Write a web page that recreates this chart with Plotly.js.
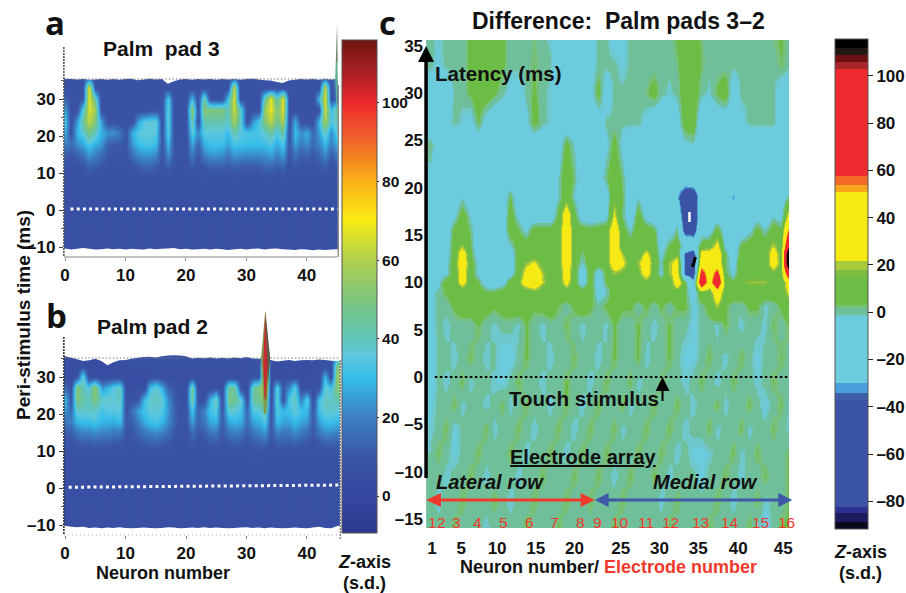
<!DOCTYPE html>
<html><head><meta charset="utf-8">
<script src="https://cdn.plot.ly/plotly-3.0.1.min.js"></script>
<style>html,body{margin:0;padding:0;background:#fff}</style></head>
<body><div id="chart" style="width:906px;height:593px"></div>
<script>
const neurons=[0,1,2,3,4,5,6,7,8,9,10,11,12,13,14,15,16,17,18,19,20,21,22,23,24,25,26,27,28,29,30,31,32,33,34,35,36,37,38,39,40,41,42,43,44,45];
const latencies=[-11,5,9,12,15,18,21,24,27,30,33,36,38];
// Palm pad 3 (s.d.), one row per latency
const a_m11=[5,5,6,5,5,6,5,5,6,5,5,6,5,5,6,5,5,6,5,5,6,5,5,6,5,5,6,5,5,6,5,5,6,5,5,6,5,5,6,5,5,6,5,5,6,5];
const a_5=[6,6,6,7,6,6,7,6,6,6,7,6,6,7,6,6,6,7,6,6,6,7,6,6,7,6,6,6,7,6,6,7,6,6,7,6,6,6,7,6,6,7,6,6,6,7];
const a_9=[7,7,7,8,9,8,8,7,7,7,7,7,8,8,8,8,7,8,7,7,7,8,7,8,8,8,8,8,9,8,8,8,8,9,9,8,9,7,8,7,8,7,8,8,7,8];
const a_12=[8,8,9,9,14,12,10,9,8,8,8,9,12,14,14,12,8,13,8,7,7,12,8,11,13,13,13,11,14,12,12,12,12,15,15,12,15,8,11,9,10,9,10,13,9,10];
const a_15=[12,10,13,17,24,20,16,10,9,9,9,16,22,24,24,21,9,23,10,7,7,19,10,20,24,24,23,18,24,23,22,22,22,23,26,20,26,9,17,12,14,11,14,22,12,18];
const a_18=[21,16,23,27,34,28,25,13,11,11,10,24,31,33,33,31,9,30,10,7,7,27,14,28,32,32,32,26,33,32,31,31,31,32,34,27,34,10,26,19,23,15,21,30,20,28];
const a_21=[28,8,29,36,48,40,29,23,23,18,9,28,35,36,36,35,8,36,9,7,7,36,22,35,35,35,35,30,42,35,33,33,33,38,44,34,44,8,31,23,28,15,25,40,22,36];
const a_24=[34,7,25,46,62,50,26,7,10,7,7,7,26,35,37,37,7,38,7,7,7,44,7,42,42,42,42,38,58,40,7,24,34,52,62,46,60,7,28,7,7,7,30,58,34,40];
const a_27=[26,7,7,36,66,58,8,7,7,7,7,7,7,7,9,9,7,38,7,7,7,54,7,52,50,50,50,40,64,40,7,7,7,58,68,50,66,7,7,7,7,7,8,64,30,46];
const a_30=[14,7,7,10,68,44,7,7,7,7,7,7,7,7,7,7,7,34,7,7,7,30,7,44,7,7,7,32,66,8,7,7,7,44,68,40,68,7,7,7,7,7,30,66,8,16];
const a_33=[7,7,7,8,68,8,7,7,7,7,7,7,7,7,7,7,7,7,7,7,7,7,7,7,7,7,7,7,62,7,7,7,7,7,7,7,7,7,7,7,7,7,7,62,7,20];
const a_36=[7,7,7,7,8,7,7,7,7,7,7,7,7,7,7,7,7,7,7,7,7,7,7,7,7,7,7,7,7,7,7,7,7,7,6,6,5,6,7,7,7,7,7,7,7,30];
const a_38=a_36;
const zPad3=[a_m11,a_5,a_9,a_12,a_15,a_18,a_21,a_24,a_27,a_30,a_33,a_36,a_38];
// Palm pad 2 (s.d.)
const b_m11=[5,5,6,5,5,6,5,5,6,5,5,6,5,5,6,5,5,6,5,5,6,5,5,6,5,5,6,5,5,6,5,5,6,5,5,6,5,5,6,5,5,6,5,5,6,5];
const b_5=[6,6,6,7,6,6,7,6,6,6,7,6,6,7,6,6,6,7,6,6,6,7,6,6,7,6,6,6,7,6,6,7,6,6,7,6,6,6,7,6,6,7,6,6,6,7];
const b_9=[7,7,8,8,8,8,8,8,8,8,7,7,7,8,8,8,8,8,7,6,6,7,7,7,8,8,7,8,8,8,7,8,9,7,8,8,8,8,8,8,8,7,8,8,8,8];
const b_12=[8,8,10,11,11,12,11,11,10,10,8,8,10,11,12,12,11,10,8,7,7,10,8,9,10,11,8,11,12,11,9,11,12,13,9,12,11,11,12,11,10,8,10,12,12,12];
const b_15=[12,12,18,20,20,22,20,20,18,18,10,10,14,18,20,22,20,16,10,8,7,16,10,12,18,18,10,18,20,18,12,18,20,24,10,20,18,18,22,18,16,10,18,22,22,20];
const b_18=[18,20,29,31,31,33,29,29,27,31,11,12,20,27,31,33,29,22,14,8,8,26,14,18,27,29,12,27,29,27,16,26,28,34,10,31,26,26,31,26,24,12,25,31,31,29];
const b_21=[24,16,38,38,38,38,32,35,35,36,9,16,26,32,36,37,34,24,14,8,8,32,14,21,32,35,10,38,36,32,15,34,36,42,8,35,30,32,36,32,30,10,32,38,37,36];
const b_24=[30,10,50,42,40,50,38,38,36,40,7,8,10,30,38,40,38,22,12,7,7,46,7,8,28,42,6,48,46,36,7,44,46,55,7,38,8,34,40,20,36,6,32,40,38,42];
const b_27=[16,7,52,40,36,54,24,30,36,40,5,5,5,5,32,38,28,14,10,5,5,46,5,5,5,8,5,46,44,5,5,42,50,66,5,36,10,22,36,6,6,5,8,38,32,52];
const b_30=[5,4,8,38,5,6,4,3,5,6,4,4,4,4,6,8,5,5,5,5,5,5,5,5,5,5,5,5,5,5,5,8,10,75,5,5,5,5,6,5,5,5,5,30,6,56];
const b_33=[6,5,4,5,4,4,3,3,3,4,5,6,6,6,6,6,6,6,6,6,6,6,6,6,6,6,6,6,6,5,5,6,8,85,5,4,4,5,5,5,4,5,5,6,6,50];
const b_36=[8,7,6,6,7,6,5,5,6,6,7,8,8,8,8,8,8,8,8,8,8,8,8,8,8,8,8,8,8,7,7,8,8,8,7,5,6,7,7,7,6,7,7,8,8,20];
const b_38=b_36;
const zPad2=[b_m11,b_5,b_9,b_12,b_15,b_18,b_21,b_24,b_27,b_30,b_33,b_36,b_38];
// outlines of the two surfaces
const topEdgePad3=[35.5,35.4,35.3,35.4,35.2,35.3,35.4,35.2,35.4,35.2,35.4,35.5,35.1,35.3,35.5,35.3,35.4,34.1,34.8,35.3,35.4,35.2,35.4,35.3,35.4,35.2,35.4,35.3,35.4,35.2,35.4,35.5,35.3,35.1,35,34.6,34.3,35,35.2,35.4,35.3,35.4,35.2,35.4,35.3,35.4];
const bottomEdgePad3=[-10.4,-10.7,-10.5,-10.3,-10.5,-10.7,-10.6,-10.4,-10.6,-10.5,-10.7,-10.5,-10.6,-10.7,-10.4,-10.6,-10.5,-10.4,-10.3,-10.6,-10.5,-10.7,-10.6,-10.5,-10.7,-10.5,-10.6,-10.8,-10.6,-10.5,-10.7,-10.5,-10.4,-10.7,-10.5,-10.4,-10.6,-10.7,-10.8,-10.6,-10.7,-10.9,-10.7,-10.8,-10.7,-10.6];
const topEdgePad2=[35.6,35.2,34.8,34.3,34.5,34.9,34.3,33.2,34,34.5,34.6,34.9,35.2,35.4,35.5,35.3,35.6,35.8,35.9,35.8,35.6,35,35.2,35.1,35.3,35,35.2,35,35.3,35.1,35.4,35,34.9,34.8,34.6,34.2,34.4,34.6,34.3,34.5,34.6,34.5,34.7,34.6,34.4,34.3];
const bottomEdgePad2=[-10.2,-10.5,-10.6,-10.5,-10.8,-10.7,-10.9,-10.7,-10.8,-10.6,-10.8,-10.9,-10.8,-10.7,-10.8,-10.9,-10.8,-10.6,-10.7,-10.9,-10.8,-10.7,-10.8,-10.6,-10.8,-10.7,-10.8,-10.9,-10.8,-10.7,-10.6,-10.8,-10.7,-10.9,-10.7,-10.8,-10.9,-10.8,-10.7,-10.8,-10.9,-10.7,-10.5,-10.8,-10.9,-10.3];
// narrow peaks that rise above the surface outline
const spikeAx=[44.7,45,45.1,44.9], spikeAy=[36,50,36,26];
const spikeArx=[44.94,45,45.05], spikeAry=[40,50,40];
const spikeBx=[32.4,33.1,33.9,33.3,32.9], spikeBy=[35,48,35,20,20];
const spikeBdx=[33.1,33.9,33.5], spikeBdy=[48,35,28];
const spikeBrx=[32.75,33.1,33.45,33.2,33.0], spikeBry=[34,47,33,24,24];
const pad3LineY=[0.3,0.3], pad3LineX=[0.9,45.1];
const pad2LineY=[0.2,0.8], pad2LineX=[0.6,45.4];
// Difference panel, one row per latency, neurons 1..46
const diffNeurons=[1,2,3,4,5,6,7,8,9,10,11,12,13,14,15,16,17,18,19,20,21,22,23,24,25,26,27,28,29,30,31,32,33,34,35,36,37,38,39,40,41,42,43,44,45,46];
const diffLatencies=[-16,-13,-10.5,-8,-5.5,-3,-0.5,2,5.5,7.5,9,10,11,12,13,14,15.5,17,19,21,24.5,27,30,33,36];
const d_m16=[0,0,0,3.5,0,0,0,-2,0,0, 0,0,3.5,0,0,0,3.5,0,0,0, 0,0,0,3.5,0,0,0,0,0,0, 3.5,0,0,0,0,3.5,0,0,0,0, 3.5,-2,-4,0,3.5,3.5];
const d_m13=[0,-2,0,0,3.5,0,0,0,3.5,0, -2,0,0,3.5,0,0,0,3.5,0,0, 3.5,0,0,0,3.5,0,0,0,0,-2, 0,3.5,0,0,0,0,3.5,0,-2,0, 0,3.5,-2,0,0,3.5];
const d_m10=[0,0,-2,0,0,3.5,0,-2,0,0, 0,-2,0,0,3.5,0,0,0,3.5,0, 0,3.5,0,-2,0,3.5,0,0,3.5,0, -2,0,0,0,-3,0,0,3.5,0,-2, 0,0,3.5,0,0,3.5];
const d_m8=[-1,3.5,0,-3,0,0,3.5,0,0,0, 3.5,0,-2,0,0,3.5,0,-2,0,3.5, 0,0,3.5,0,0,0,3.5,0,0,3.5, 0,-2,0,-3,-3,-2,0,0,3.5,-2, 0,3.5,0,0,0,3.5];
const d_m5=[-2,0,3.5,-3,0,0,0,3.5,-2,0, 0,3.5,0,-2,0,0,3.5,0,-2,0, 3.5,0,0,3.5,-2,0,0,3.5,0,0, 3.5,0,-2,0,0,3.5,-2,0,0,3.5, -2,0,0,3.5,0,-2];
const d_m3=[-3,0,0,3.5,-2,0,0,-2,0,3.5, -2,0,3.5,0,0,-2,0,3.5,0,-2, 0,3.5,0,0,3.5,-2,0,0,3.5,0, 0,3.5,0,-2,0,0,3.5,-2,0,0, 3.5,0,-3,0,3.5,-2];
const d_m0=[-5,0,-2,0,3.5,-2,0,0,-2,-3, 0,3.5,0,0,-2,0,0,3.5,0,0, -2,0,3.5,0,0,3.5,-2,0,0,3.5, 0,0,-2,0,3.5,0,-2,0,3.5,0, 0,-2,0,3.5,0,0];
const d_2=[-5,0,0,-2,0,3.5,0,-2,0,-4, -4,0,3.5,0,0,-2,0,0,3.5,0, 0,-2,0,3.5,0,0,3.5,-2,0,0, 3.5,0,-3,-3,0,3.5,0,-2,0,3.5, 0,-3,0,0,3.5,0];
const d_4=[-4,0,-2,0,0,0,3.5,0,-2,0, 0,-2,3.5,0,-2,0,0,3.5,0,-2, 0,0,-2,3.5,0,0,3.5,0,-2,0, 3.5,0,0,-3,0,0,-2,3.5,0,-2, 0,0,-2,3.5,0,3.5];
const d_7=[-4,0,0,4,8,8,8,6,4,6, 8,8,6,4,6,8,3,0,4,8, 4,0,4,8,4,4,0,4,0,4, 0,4,4,-3,0,6,20,4,0,0, 4,4,-2,0,4,8];
const d_8=[-4,0,4,8,8,8,8,4,4,8, 8,8,8,14,8,8,8,8,8,8, 8,-6,-2,8,8,8,8,8,8,8, 8,10,4,-10,12,10,36,10,8,8, 8,8,8,8,8,26];
const d_10=[-10,-4,8,8,30,8,4,-8,-10,-8, 8,14,33,36,22,8,8,28,8,-8, 8,-10,4,8,8,8,10,14,8,8, 8,34,6,-25,90,34,90,8,4,14, 18,18,18,8,8,34];
const d_11=[-10,-10,-4,8,34,8,-4,-10,-10,-10, -8,8,28,34,20,8,8,34,8,-10, 8,-8,6,18,14,8,14,30,8,-4, 18,30,-42,-50,70,36,65,4,-4,10, 10,10,10,12,10,90];
const d_12=[-10,-10,-4,8,36,8,-4,-10,-10,-10, -10,8,18,24,12,8,8,36,8,-2, 8,8,8,36,26,10,18,36,8,-2, 18,30,-42,-55,36,36,36,4,-8,12, 8,8,8,34,10,160];
const d_13=[-10,-10,-6,8,34,6,-8,-10,-10,-10, -10,8,8,10,8,8,8,36,8,2, 8,8,10,36,20,8,10,26,8,-4, 8,14,-38,-50,30,30,36,4,-10,8, 8,8,8,32,10,160];
const d_14=[-10,-10,-8,8,16,4,-10,-10,-10,-10, -2,8,8,8,8,8,8,36,8,4, 8,8,10,36,8,8,8,8,8,-8, 4,8,-6,-12,6,10,26,-6,-10,4, 8,8,8,20,8,100];
const d_15=[-10,-10,-10,6,8,2,-10,-10,-10,-10, 8,4,-4,8,8,8,8,36,8,8, 6,8,10,36,8,-2,10,8,4,-10, -10,2,-46,-46,-8,-8,8,-10,-10,-10, -4,6,-2,8,4,60];
const d_17=[-10,-10,-10,-4,8,-2,-10,-10,-10,-10, 8,-4,-10,-10,-10,-10,6,36,6,-8, -10,-8,-6,24,2,-10,8,-6,-10,-10, -10,-10,-55,-55,-10,-10,-10,-10,-10,-10, -10,-6,-10,-2,-6,30];
const d_19=[-10,-6,-10,-10,-2,-10,-10,-10,-10,-10, 4,-10,-10,-10,-10,-10,-2,10,-2,-10, -10,-10,-8,14,4,-10,-2,-10,-10,-10, -10,-28,-58,-55,-12,-10,-10,-10,-33,-10, -10,-10,-10,-10,-10,2];
const d_21=[-4,-8,-10,-10,-10,-10,-10,-10,-10,-10, -10,-10,-10,-10,-10,-10,-2,10,2,-10, -10,-8,2,10,2,-10,-10,-10,-10,-10, -10,-10,-10,-10,-10,-10,-10,-10,-10,-10, -10,-10,-10,-10,-10,-10];
const d_24=[2,-8,-10,-10,-8,-10,-10,-10,-10,-10, -10,-10,-10,-10,-10,-10,-8,6,-2,-10, -10,-10,-4,6,-4,-10,-10,-10,-10,-10, -10,-10,-4,-2,-10,-10,-10,-10,-10,-10, -10,-10,-10,-10,-10,-10];
const d_27=[-10,-10,-4,0,-2,-6,4,-6,-10,-10, -10,-10,-4,6,0,-2,-10,-10,-10,-10, -10,-8,0,0,0,0,0,-4,-10,-10, -10,-6,8,8,-10,-10,-10,-10,-10,-4, 0,0,0,0,-6,-10];
const d_30=[-8,-6,-10,0,0,4,8,8,4,0, -4,-6,0,4,0,-2,-10,-10,-10,-10, -6,6,-8,0,0,0,0,2,6,0, -2,0,8,8,0,-2,4,8,-8,0, 0,0,0,0,-8,-10];
const d_33=[0,-3,0,0,0,4,8,8,8,4, 0,0,0,3,0,0,-10,-10,-10,-10, -6,0,0,0,-3,0,0,0,0,0, 0,2,8,8,3,0,0,0,0,0, 0,0,0,0,3,0];
const d_36=[0,-2,0,0,0,4,8,8,8,4, 0,0,0,2,0,-2,-10,-10,-10,-10, -8,0,0,-6,-4,0,0,0,0,0, 0,4,8,8,2,0,0,0,0,0, 0,0,0,2,4,0];
const zDiff=[d_m16,d_m13,d_m10,d_m8,d_m5,d_m3,d_m0,d_2,d_4,d_7,d_8,d_10,d_11,d_12,d_13,d_14,d_15,d_17,d_19,d_21,d_24,d_27,d_30,d_33,d_36];
// colour scales
const surfStops=[-9.4,0,10,20,30,36,42,52,60,70,80,90,100,106,116];
const surfColors=['#2b3990','#35479f','#3a56a8','#3c7fc2','#35bdea','#60c8dc','#63c4ac','#86c773','#afd04e','#f7ec13','#fbb116','#f0672a','#ee2a2e','#b72228','#6e1510'];
const diffEdges=[-91.7,-88.6,-85,-82.4,-37,-34,-30,-2.2,-1,1.7,3,15,18,21.7,50.7,54,57.6,103,105.8,108.8,112,115.6];
const diffColors=['#0a0a1e','#1e1b5e','#2e3192','#3a53a4','#3f5eaa','#4aa0dc','#6ccbdc','#6ec8cc','#6fc09a','#76c07a','#6bbd45','#7fbd42','#a9cb3b','#f5ea14','#faa61a','#f26a25','#ee2a2e','#a5242a','#6d0f13','#231815','#000000'];
const surfTicks=[0,20,40,60,80,100];
const diffTicks=[-80,-60,-40,-20,0,20,40,60,80,100];
const diffTickText=['–80','–60','–40','–20','0','20','40','60','80','100'];
const panelTicks=[-10,0,10,20,30];
const panelTickText=['–10','0','10','20','30'];
const panelXTicks=[0,10,20,30,40];
const diffYTicks=[-15,-10,-5,0,5,10,15,20,25,30,35];
const diffYText=['–15','–10','–5','0','5','10','15','20','25','30','35'];
const diffXTicks=[1.25,4.9,9.4,14.25,19.1,24.9,29.75,34.6,39.6,45.25];
const diffXText=['1','5','10','15','20','25','30','35','40','45'];
const electrodeLabels=['1','2','3','4','5','6','7','8','9','10','11','12','13','14','15','16'];
const electrodePx=[433,442,458,479,505,531,556,582,599,621,647,672,702,732,762,788];

const W=906,H=593;
const px=v=>v/W, py=v=>1-v/H;
const FONT='"Liberation Sans", Arial, sans-serif';
const dom=(a,b)=>[a/W,b/W], domY=(top,bot)=>[1-bot/H,1-top/H];
const surfScale=surfStops.map((z,i)=>[(z-surfStops[0])/(surfStops[surfStops.length-1]-surfStops[0]),surfColors[i]]);
const diffScale=[];
const dMin=diffEdges[0],dMax=diffEdges[diffEdges.length-1];
diffColors.forEach((c,i)=>{diffScale.push([(diffEdges[i]-dMin)/(dMax-dMin),c]);diffScale.push([(diffEdges[i+1]-dMin)/(dMax-dMin),c]);});

function closeAbove(xs,ys,lim){return {x:[...xs,46.5,46.5,-1,-1],y:[...ys,ys[ys.length-1],lim,lim,ys[0]]};}
function mask(xs,ys,lim,ax,ay){const m=closeAbove(xs,ys,lim);
 return {type:'scatter',mode:'none',x:m.x,y:m.y,fill:'toself',fillcolor:'#fff',xaxis:ax,yaxis:ay,hoverinfo:'skip',showlegend:false};}
function poly(x,y,c,ax,ay){return {type:'scatter',mode:'none',x,y,fill:'toself',fillcolor:c,xaxis:ax,yaxis:ay,hoverinfo:'skip',showlegend:false};}
function dotted(x,y,c,w,d,ax,ay){return {type:'scatter',mode:'lines',x,y,line:{color:c,width:w,dash:d},xaxis:ax,yaxis:ay,hoverinfo:'skip',showlegend:false};}

const data=[
 {type:'heatmap',x:neurons,y:latencies,z:zPad3,zsmooth:'best',coloraxis:'coloraxis',xaxis:'x',yaxis:'y'},
 mask(neurons,topEdgePad3,60,'x','y'),mask(neurons,bottomEdgePad3,-20,'x','y'),
 poly(spikeAx,spikeAy,'#5fae8f','x','y'),poly(spikeArx,spikeAry,'#a03030','x','y'),
 dotted(pad3LineX,pad3LineY,'#fff',3,'3px,3.2px','x','y'),
 {type:'heatmap',x:neurons,y:latencies,z:zPad2,zsmooth:'best',coloraxis:'coloraxis',xaxis:'x2',yaxis:'y2'},
 mask(neurons,topEdgePad2,60,'x2','y2'),mask(neurons,bottomEdgePad2,-20,'x2','y2'),
 poly(spikeBx,spikeBy,'#7f9a50','x2','y2'),poly(spikeBdx,spikeBdy,'#5f5548','x2','y2'),poly(spikeBrx,spikeBry,'#c8282e','x2','y2'),
 dotted(pad2LineX,pad2LineY,'#fff',3,'3px,3.2px','x2','y2'),
 {type:'heatmap',x:diffNeurons,y:diffLatencies,z:zDiff,zsmooth:'best',coloraxis:'coloraxis2',xaxis:'x3',yaxis:'y3'},
 dotted([1.6,46],[0,0],'#000',2.2,'2.5px,2.5px','x3','y3')
];

const tf={family:FONT,size:17,color:'#111',weight:700};
function panelX(domain,range){return {domain,range,tickmode:'array',tickvals:panelXTicks,ticktext:panelXTicks.map(String),tickfont:tf,ticks:'outside',ticklen:3,tickcolor:'#888',ticklabelstandoff:0,showgrid:false,zeroline:false,showline:false};}
function panelY(domain,range,anchor){return {domain,range,anchor,tickmode:'array',tickvals:panelTicks,ticktext:panelTickText,tickfont:tf,ticks:'outside',ticklen:4,tickcolor:'#444',showgrid:false,zeroline:false,showline:false,minor:{tickvals:[-5,5,15,25,35],ticks:'outside',ticklen:2,tickcolor:'#666'}};}

const layout={width:W,height:H,autosize:false,margin:{l:0,r:0,t:0,b:0},paper_bgcolor:'#fff',plot_bgcolor:'rgba(0,0,0,0)',showlegend:false,
 xaxis:panelX(dom(64,339),[-0.2,45.2]),
 yaxis:panelY(domY(20,257),[(210-257)/3.7,(210-20)/3.7],'x'),
 xaxis2:{...panelX(dom(64,341),[-0.2,45.5]),anchor:'y2'},
 yaxis2:panelY(domY(305,535),[(488-535)/3.7,(488-305)/3.7],'x2'),
 xaxis3:{domain:dom(427,791),range:[0.5,46],anchor:'y3',tickmode:'array',tickvals:diffXTicks,ticktext:diffXText,tickfont:tf,ticks:'',ticklabelstandoff:8,showgrid:false,zeroline:false,showline:false},
 yaxis3:{domain:domY(40,528),range:[(377-528)/9.46,(377-40)/9.46],anchor:'x3',tickmode:'array',tickvals:diffYTicks,ticktext:diffYText,tickfont:tf,ticks:'',ticklabelstandoff:2,showgrid:false,zeroline:false,showline:false},
 coloraxis:{cmin:-9.4,cmax:116,colorscale:surfScale,colorbar:{thickness:35,thicknessmode:'pixels',len:493,lenmode:'pixels',x:px(343),xanchor:'left',y:py(533),yanchor:'bottom',xpad:0,ypad:0,outlinecolor:'#555',outlinewidth:1,tickmode:'array',tickvals:surfTicks,ticktext:surfTicks.map(String),ticks:'outside',ticklen:2,tickcolor:'#222',tickfont:{family:FONT,size:15.5,color:'#111',weight:700}}},
 coloraxis2:{cmin:dMin,cmax:dMax,colorscale:diffScale,colorbar:{thickness:33,thicknessmode:'pixels',len:490,lenmode:'pixels',x:px(837),xanchor:'left',y:py(529),yanchor:'bottom',xpad:0,ypad:0,outlinecolor:'#555',outlinewidth:1,tickmode:'array',tickvals:diffTicks,ticktext:diffTickText,ticks:'outside',ticklen:5,tickcolor:'#222',tickfont:{family:FONT,size:17,color:'#111',weight:700}}},
 annotations:[],shapes:[]
};
function note(t,x,y,size,o={}){layout.annotations.push(Object.assign({text:t,xref:'paper',yref:'paper',x:px(x),y:py(y),xanchor:'center',yanchor:'middle',showarrow:false,font:{family:FONT,size,color:'#111',weight:700}},o));}
const letterFont={family:'"Open Sans"',size:33,color:'#111',weight:700};
note('a',55,22,33,{font:letterFont});
note('b',57,315,33,{font:letterFont});
note('c',388,22,33,{font:letterFont});
note('Palm&nbsp;&nbsp;pad 3',162,49,21);
note('Palm pad 2',153,326,21);
note('Difference:&nbsp;&nbsp;Palm pads 3–2',620,21,23);
note('Peri-stimulus time (ms)',23,315,19,{textangle:-90});
note('Neuron number',163,573,18);
note('<i>Z</i>-axis',365,562,18);
note('(s.d.)',365,583,18);
note('<i>Z</i>-axis',862,552,18);
note('(s.d.)',862,573,18);
note('Latency (ms)',499,73,20.5);
note('Touch stimulus',585,398,20.5);
note('<u>Electrode array</u>',585,457,20);
note('<i>Lateral row</i>',491,482,20);
note('<i>Medial row</i>',707,482,20);
note('Neuron number/ <span style="color:#ee3a2c">Electrode number</span>',610,567,18);
electrodeLabels.forEach((t,i)=>note(t,electrodePx[i],522,15.5,{font:{family:FONT,size:15.5,color:'#ee3a2c',weight:400}}));

function shapePath(points,fill){layout.shapes.push({type:'path',xref:'paper',yref:'paper',layer:'above',path:'M'+points.map(p=>px(p[0])+','+py(p[1])).join(' L')+' Z',fillcolor:fill,line:{width:0}});}
function seg(x0,y0,x1,y1,c,w,d){layout.shapes.push({type:'line',xref:'paper',yref:'paper',layer:'above',x0:px(x0),y0:py(y0),x1:px(x1),y1:py(y1),line:{color:c,width:w,dash:d||'solid'}});}
// axis frames of panels a, b
seg(64,47,64,257,'#555',1.6,'2px,1px');seg(64,257,338,257,'#888',1.2);seg(339,85,339,257,'#777',1.2);
seg(64,79,338,79,'#777',1,'1.5px,2px');
seg(64,337,64,535,'#333',1.6,'2px,1px');seg(64,535,341,535,'#888',0.8,'1px,3px');seg(341,360,341,540,'#555',1,'2px,1px');
seg(64,358,341,358,'#777',1,'1.5px,2px');
// latency arrow
seg(427,478,427,60,'#000',3.5);shapePath([[427,46],[419,62],[435,62]],'#000');
// touch arrow
seg(664,388,664,401,'#000',2);shapePath([[664,377],[657,391],[671,391]],'#000');
// electrode arrows
seg(436,500,586,500,'#ee3a2c',3);shapePath([[427,500],[442,493],[442,507]],'#ee3a2c');shapePath([[596,500],[582,493],[582,507]],'#ee3a2c');
seg(605,500,784,500,'#3f58a8',3);shapePath([[596,500],[610,493],[610,507]],'#3f58a8');shapePath([[794,500],[780,493],[780,507]],'#3f58a8');
// artefacts inside the blue spots
seg(691,212,691,222,'#fff',2.5);
seg(694,267,697,257,'#000',3);

Plotly.newPlot('chart',data,layout,{displayModeBar:false,staticPlot:true});
</script></body></html>
